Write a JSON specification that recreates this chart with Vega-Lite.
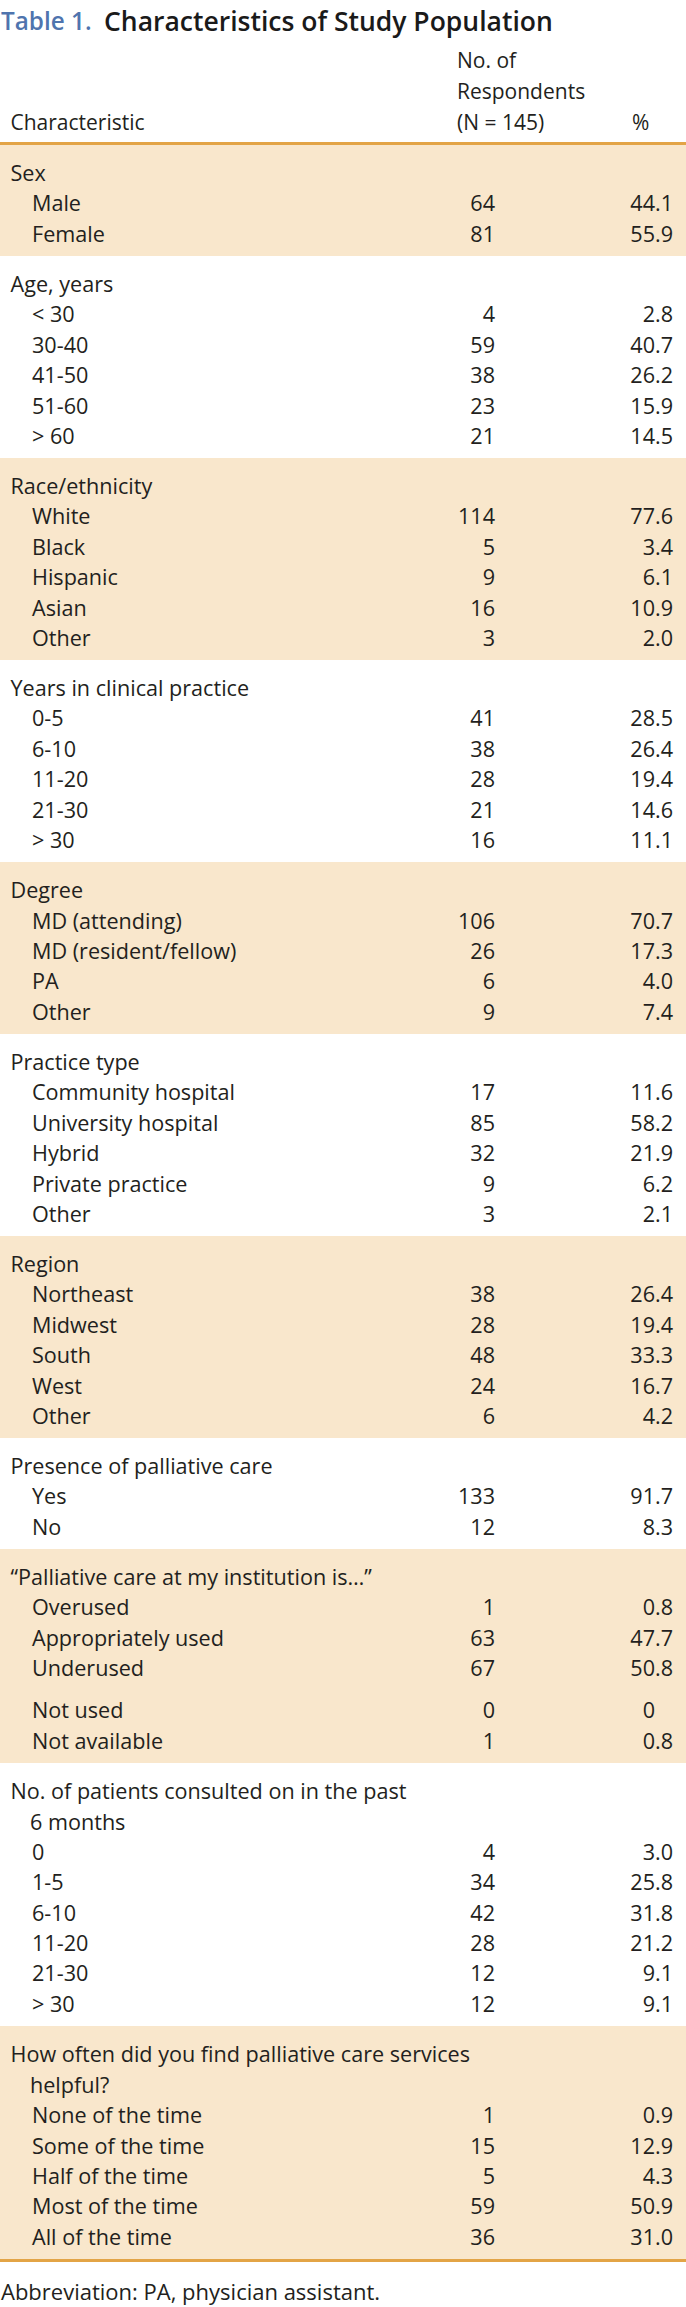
{
"$schema": "https://vega.github.io/schema/vega-lite/v6.json",
"background": "white",
"padding": 0,
"spacing": 0,
"bounds": "flush",
"config": {"view": {"stroke": null}, "text": {"font": "Open Sans", "fontSize": 21.6, "color": "#231f20"}},
"datasets": {
"rows": [
{"g":1,"lv":0,"label":"Sex","n":"","pi":"","pf":""},
{"g":1,"lv":1,"label":"Male","n":"64","pi":"44","pf":".1"},
{"g":1,"lv":1,"label":"Female","n":"81","pi":"55","pf":".9"},
{"g":2,"lv":0,"label":"Age, years","n":"","pi":"","pf":""},
{"g":2,"lv":1,"label":"< 30","n":"4","pi":"2","pf":".8"},
{"g":2,"lv":1,"label":"30-40","n":"59","pi":"40","pf":".7"},
{"g":2,"lv":1,"label":"41-50","n":"38","pi":"26","pf":".2"},
{"g":2,"lv":1,"label":"51-60","n":"23","pi":"15","pf":".9"},
{"g":2,"lv":1,"label":"> 60","n":"21","pi":"14","pf":".5"},
{"g":3,"lv":0,"label":"Race/ethnicity","n":"","pi":"","pf":""},
{"g":3,"lv":1,"label":"White","n":"114","pi":"77","pf":".6"},
{"g":3,"lv":1,"label":"Black","n":"5","pi":"3","pf":".4"},
{"g":3,"lv":1,"label":"Hispanic","n":"9","pi":"6","pf":".1"},
{"g":3,"lv":1,"label":"Asian","n":"16","pi":"10","pf":".9"},
{"g":3,"lv":1,"label":"Other","n":"3","pi":"2","pf":".0"},
{"g":4,"lv":0,"label":"Years in clinical practice","n":"","pi":"","pf":""},
{"g":4,"lv":1,"label":"0-5","n":"41","pi":"28","pf":".5"},
{"g":4,"lv":1,"label":"6-10","n":"38","pi":"26","pf":".4"},
{"g":4,"lv":1,"label":"11-20","n":"28","pi":"19","pf":".4"},
{"g":4,"lv":1,"label":"21-30","n":"21","pi":"14","pf":".6"},
{"g":4,"lv":1,"label":"> 30","n":"16","pi":"11","pf":".1"},
{"g":5,"lv":0,"label":"Degree","n":"","pi":"","pf":""},
{"g":5,"lv":1,"label":"MD (attending)","n":"106","pi":"70","pf":".7"},
{"g":5,"lv":1,"label":"MD (resident/fellow)","n":"26","pi":"17","pf":".3"},
{"g":5,"lv":1,"label":"PA","n":"6","pi":"4","pf":".0"},
{"g":5,"lv":1,"label":"Other","n":"9","pi":"7","pf":".4"},
{"g":6,"lv":0,"label":"Practice type","n":"","pi":"","pf":""},
{"g":6,"lv":1,"label":"Community hospital","n":"17","pi":"11","pf":".6"},
{"g":6,"lv":1,"label":"University hospital","n":"85","pi":"58","pf":".2"},
{"g":6,"lv":1,"label":"Hybrid","n":"32","pi":"21","pf":".9"},
{"g":6,"lv":1,"label":"Private practice","n":"9","pi":"6","pf":".2"},
{"g":6,"lv":1,"label":"Other","n":"3","pi":"2","pf":".1"},
{"g":7,"lv":0,"label":"Region","n":"","pi":"","pf":""},
{"g":7,"lv":1,"label":"Northeast","n":"38","pi":"26","pf":".4"},
{"g":7,"lv":1,"label":"Midwest","n":"28","pi":"19","pf":".4"},
{"g":7,"lv":1,"label":"South","n":"48","pi":"33","pf":".3"},
{"g":7,"lv":1,"label":"West","n":"24","pi":"16","pf":".7"},
{"g":7,"lv":1,"label":"Other","n":"6","pi":"4","pf":".2"},
{"g":8,"lv":0,"label":"Presence of palliative care","n":"","pi":"","pf":""},
{"g":8,"lv":1,"label":"Yes","n":"133","pi":"91","pf":".7"},
{"g":8,"lv":1,"label":"No","n":"12","pi":"8","pf":".3"},
{"g":9,"lv":0,"label":"“Palliative care at my institution is…”","n":"","pi":"","pf":""},
{"g":9,"lv":1,"label":"Overused","n":"1","pi":"0","pf":".8"},
{"g":9,"lv":1,"label":"Appropriately used","n":"63","pi":"47","pf":".7"},
{"g":9,"lv":1,"label":"Underused","n":"67","pi":"50","pf":".8"},
{"g":10,"lv":1,"label":"Not used","n":"0","pi":"0","pf":""},
{"g":10,"lv":1,"label":"Not available","n":"1","pi":"0","pf":".8"},
{"g":11,"lv":0,"label":"No. of patients consulted on in the past","n":"","pi":"","pf":""},
{"g":11,"lv":2,"label":"6 months","n":"","pi":"","pf":""},
{"g":11,"lv":1,"label":"0","n":"4","pi":"3","pf":".0"},
{"g":11,"lv":1,"label":"1-5","n":"34","pi":"25","pf":".8"},
{"g":11,"lv":1,"label":"6-10","n":"42","pi":"31","pf":".8"},
{"g":11,"lv":1,"label":"11-20","n":"28","pi":"21","pf":".2"},
{"g":11,"lv":1,"label":"21-30","n":"12","pi":"9","pf":".1"},
{"g":11,"lv":1,"label":"> 30","n":"12","pi":"9","pf":".1"},
{"g":12,"lv":0,"label":"How often did you find palliative care services","n":"","pi":"","pf":""},
{"g":12,"lv":2,"label":"helpful?","n":"","pi":"","pf":""},
{"g":12,"lv":1,"label":"None of the time","n":"1","pi":"0","pf":".9"},
{"g":12,"lv":1,"label":"Some of the time","n":"15","pi":"12","pf":".9"},
{"g":12,"lv":1,"label":"Half of the time","n":"5","pi":"4","pf":".3"},
{"g":12,"lv":1,"label":"Most of the time","n":"59","pi":"50","pf":".9"},
{"g":12,"lv":1,"label":"All of the time","n":"36","pi":"31","pf":".0"}
]
},
"vconcat": [
{"width":686,"height":45,"data":{"values":[{"a":"Table 1.","b":"Characteristics of Study Population"}]},
 "encoding":{"y":{"field":"a","type":"nominal","axis":null,"scale":{"type":"band","paddingInner":0,"paddingOuter":0}}},
 "layer":[
  {"mark":{"type":"text","align":"left","fontSize":24.3,"fontWeight":600,"color":"#4f74ae"},"encoding":{"x":{"datum":1,"type":"quantitative","scale":{"domain":[0,686]},"axis":null},"text":{"field":"a"}}},
  {"mark":{"type":"text","align":"left","fontSize":26.5,"fontWeight":600,"color":"#1a1a1a"},"encoding":{"x":{"datum":104,"type":"quantitative","scale":{"domain":[0,686]},"axis":null},"text":{"field":"b"}}}
 ]},
{"width":686,"height":97,"data":{"values":[{"line":1,"c":"","nr":"No. of","p":""},{"line":2,"c":"","nr":"Respondents","p":""},{"line":3,"c":"Characteristic","nr":"(N = 145)","p":"%"}]},
 "encoding":{"y":{"field":"line","type":"ordinal","axis":null,"scale":{"type":"band","paddingInner":0,"paddingOuter":0.0645,"align":0.375}}},
 "layer":[
  {"mark":{"type":"text","align":"left","fontSize":21},"encoding":{"x":{"datum":10.5,"type":"quantitative","scale":{"domain":[0,686]},"axis":null},"text":{"field":"c"}}},
  {"mark":{"type":"text","align":"left","fontSize":21},"encoding":{"x":{"datum":457,"type":"quantitative","scale":{"domain":[0,686]},"axis":null},"text":{"field":"nr"}}},
  {"mark":{"type":"text","align":"left","fontSize":21},"encoding":{"x":{"datum":632,"type":"quantitative","scale":{"domain":[0,686]},"axis":null},"text":{"field":"p"}}}
 ]},
{"width":686,"height":3,"view":{"fill":"#e3a446","stroke":null},"data":{"values":[{}]},"mark":"text","encoding":{"text":{"value":""}}},
{"width":686,"height":111,"view":{"fill":"#f9e7cc","stroke":null},"data":{"name":"rows"},"transform":[{"filter":"datum.g==1"}],
 "encoding":{"y":{"field":"label","type":"nominal","sort":null,"axis":null,"scale":{"type":"band","paddingInner":0,"paddingOuter":0.3295,"align":0.75}}},
 "layer":[
  {"mark":{"type":"text","align":"left"},"encoding":{"x":{"datum":10.5,"type":"quantitative","scale":{"domain":[0,686]},"axis":null},"text":{"condition":{"test":"datum.lv==0","field":"label"},"value":""}}},
  {"mark":{"type":"text","align":"left"},"encoding":{"x":{"datum":32,"type":"quantitative","scale":{"domain":[0,686]},"axis":null},"text":{"condition":{"test":"datum.lv>0","field":"label"},"value":""}}},
  {"mark":{"type":"text","align":"right"},"encoding":{"x":{"datum":495,"type":"quantitative","scale":{"domain":[0,686]},"axis":null},"text":{"field":"n"}}},
  {"mark":{"type":"text","align":"right"},"encoding":{"x":{"datum":655,"type":"quantitative","scale":{"domain":[0,686]},"axis":null},"text":{"field":"pi"}}},
  {"mark":{"type":"text","align":"left"},"encoding":{"x":{"datum":655,"type":"quantitative","scale":{"domain":[0,686]},"axis":null},"text":{"field":"pf"}}}
 ]},
{"width":686,"height":202,"data":{"name":"rows"},"transform":[{"filter":"datum.g==2"}],
 "encoding":{"y":{"field":"label","type":"nominal","sort":null,"axis":null,"scale":{"type":"band","paddingInner":0,"paddingOuter":0.3295,"align":0.75}}},
 "layer":[
  {"mark":{"type":"text","align":"left"},"encoding":{"x":{"datum":10.5,"type":"quantitative","scale":{"domain":[0,686]},"axis":null},"text":{"condition":{"test":"datum.lv==0","field":"label"},"value":""}}},
  {"mark":{"type":"text","align":"left"},"encoding":{"x":{"datum":32,"type":"quantitative","scale":{"domain":[0,686]},"axis":null},"text":{"condition":{"test":"datum.lv>0","field":"label"},"value":""}}},
  {"mark":{"type":"text","align":"right"},"encoding":{"x":{"datum":495,"type":"quantitative","scale":{"domain":[0,686]},"axis":null},"text":{"field":"n"}}},
  {"mark":{"type":"text","align":"right"},"encoding":{"x":{"datum":655,"type":"quantitative","scale":{"domain":[0,686]},"axis":null},"text":{"field":"pi"}}},
  {"mark":{"type":"text","align":"left"},"encoding":{"x":{"datum":655,"type":"quantitative","scale":{"domain":[0,686]},"axis":null},"text":{"field":"pf"}}}
 ]},
{"width":686,"height":202,"view":{"fill":"#f9e7cc","stroke":null},"data":{"name":"rows"},"transform":[{"filter":"datum.g==3"}],
 "encoding":{"y":{"field":"label","type":"nominal","sort":null,"axis":null,"scale":{"type":"band","paddingInner":0,"paddingOuter":0.3295,"align":0.75}}},
 "layer":[
  {"mark":{"type":"text","align":"left"},"encoding":{"x":{"datum":10.5,"type":"quantitative","scale":{"domain":[0,686]},"axis":null},"text":{"condition":{"test":"datum.lv==0","field":"label"},"value":""}}},
  {"mark":{"type":"text","align":"left"},"encoding":{"x":{"datum":32,"type":"quantitative","scale":{"domain":[0,686]},"axis":null},"text":{"condition":{"test":"datum.lv>0","field":"label"},"value":""}}},
  {"mark":{"type":"text","align":"right"},"encoding":{"x":{"datum":495,"type":"quantitative","scale":{"domain":[0,686]},"axis":null},"text":{"field":"n"}}},
  {"mark":{"type":"text","align":"right"},"encoding":{"x":{"datum":655,"type":"quantitative","scale":{"domain":[0,686]},"axis":null},"text":{"field":"pi"}}},
  {"mark":{"type":"text","align":"left"},"encoding":{"x":{"datum":655,"type":"quantitative","scale":{"domain":[0,686]},"axis":null},"text":{"field":"pf"}}}
 ]},
{"width":686,"height":202,"data":{"name":"rows"},"transform":[{"filter":"datum.g==4"}],
 "encoding":{"y":{"field":"label","type":"nominal","sort":null,"axis":null,"scale":{"type":"band","paddingInner":0,"paddingOuter":0.3295,"align":0.75}}},
 "layer":[
  {"mark":{"type":"text","align":"left"},"encoding":{"x":{"datum":10.5,"type":"quantitative","scale":{"domain":[0,686]},"axis":null},"text":{"condition":{"test":"datum.lv==0","field":"label"},"value":""}}},
  {"mark":{"type":"text","align":"left"},"encoding":{"x":{"datum":32,"type":"quantitative","scale":{"domain":[0,686]},"axis":null},"text":{"condition":{"test":"datum.lv>0","field":"label"},"value":""}}},
  {"mark":{"type":"text","align":"right"},"encoding":{"x":{"datum":495,"type":"quantitative","scale":{"domain":[0,686]},"axis":null},"text":{"field":"n"}}},
  {"mark":{"type":"text","align":"right"},"encoding":{"x":{"datum":655,"type":"quantitative","scale":{"domain":[0,686]},"axis":null},"text":{"field":"pi"}}},
  {"mark":{"type":"text","align":"left"},"encoding":{"x":{"datum":655,"type":"quantitative","scale":{"domain":[0,686]},"axis":null},"text":{"field":"pf"}}}
 ]},
{"width":686,"height":172,"view":{"fill":"#f9e7cc","stroke":null},"data":{"name":"rows"},"transform":[{"filter":"datum.g==5"}],
 "encoding":{"y":{"field":"label","type":"nominal","sort":null,"axis":null,"scale":{"type":"band","paddingInner":0,"paddingOuter":0.3295,"align":0.75}}},
 "layer":[
  {"mark":{"type":"text","align":"left"},"encoding":{"x":{"datum":10.5,"type":"quantitative","scale":{"domain":[0,686]},"axis":null},"text":{"condition":{"test":"datum.lv==0","field":"label"},"value":""}}},
  {"mark":{"type":"text","align":"left"},"encoding":{"x":{"datum":32,"type":"quantitative","scale":{"domain":[0,686]},"axis":null},"text":{"condition":{"test":"datum.lv>0","field":"label"},"value":""}}},
  {"mark":{"type":"text","align":"right"},"encoding":{"x":{"datum":495,"type":"quantitative","scale":{"domain":[0,686]},"axis":null},"text":{"field":"n"}}},
  {"mark":{"type":"text","align":"right"},"encoding":{"x":{"datum":655,"type":"quantitative","scale":{"domain":[0,686]},"axis":null},"text":{"field":"pi"}}},
  {"mark":{"type":"text","align":"left"},"encoding":{"x":{"datum":655,"type":"quantitative","scale":{"domain":[0,686]},"axis":null},"text":{"field":"pf"}}}
 ]},
{"width":686,"height":202,"data":{"name":"rows"},"transform":[{"filter":"datum.g==6"}],
 "encoding":{"y":{"field":"label","type":"nominal","sort":null,"axis":null,"scale":{"type":"band","paddingInner":0,"paddingOuter":0.3295,"align":0.75}}},
 "layer":[
  {"mark":{"type":"text","align":"left"},"encoding":{"x":{"datum":10.5,"type":"quantitative","scale":{"domain":[0,686]},"axis":null},"text":{"condition":{"test":"datum.lv==0","field":"label"},"value":""}}},
  {"mark":{"type":"text","align":"left"},"encoding":{"x":{"datum":32,"type":"quantitative","scale":{"domain":[0,686]},"axis":null},"text":{"condition":{"test":"datum.lv>0","field":"label"},"value":""}}},
  {"mark":{"type":"text","align":"right"},"encoding":{"x":{"datum":495,"type":"quantitative","scale":{"domain":[0,686]},"axis":null},"text":{"field":"n"}}},
  {"mark":{"type":"text","align":"right"},"encoding":{"x":{"datum":655,"type":"quantitative","scale":{"domain":[0,686]},"axis":null},"text":{"field":"pi"}}},
  {"mark":{"type":"text","align":"left"},"encoding":{"x":{"datum":655,"type":"quantitative","scale":{"domain":[0,686]},"axis":null},"text":{"field":"pf"}}}
 ]},
{"width":686,"height":202,"view":{"fill":"#f9e7cc","stroke":null},"data":{"name":"rows"},"transform":[{"filter":"datum.g==7"}],
 "encoding":{"y":{"field":"label","type":"nominal","sort":null,"axis":null,"scale":{"type":"band","paddingInner":0,"paddingOuter":0.3295,"align":0.75}}},
 "layer":[
  {"mark":{"type":"text","align":"left"},"encoding":{"x":{"datum":10.5,"type":"quantitative","scale":{"domain":[0,686]},"axis":null},"text":{"condition":{"test":"datum.lv==0","field":"label"},"value":""}}},
  {"mark":{"type":"text","align":"left"},"encoding":{"x":{"datum":32,"type":"quantitative","scale":{"domain":[0,686]},"axis":null},"text":{"condition":{"test":"datum.lv>0","field":"label"},"value":""}}},
  {"mark":{"type":"text","align":"right"},"encoding":{"x":{"datum":495,"type":"quantitative","scale":{"domain":[0,686]},"axis":null},"text":{"field":"n"}}},
  {"mark":{"type":"text","align":"right"},"encoding":{"x":{"datum":655,"type":"quantitative","scale":{"domain":[0,686]},"axis":null},"text":{"field":"pi"}}},
  {"mark":{"type":"text","align":"left"},"encoding":{"x":{"datum":655,"type":"quantitative","scale":{"domain":[0,686]},"axis":null},"text":{"field":"pf"}}}
 ]},
{"width":686,"height":111,"data":{"name":"rows"},"transform":[{"filter":"datum.g==8"}],
 "encoding":{"y":{"field":"label","type":"nominal","sort":null,"axis":null,"scale":{"type":"band","paddingInner":0,"paddingOuter":0.3295,"align":0.75}}},
 "layer":[
  {"mark":{"type":"text","align":"left"},"encoding":{"x":{"datum":10.5,"type":"quantitative","scale":{"domain":[0,686]},"axis":null},"text":{"condition":{"test":"datum.lv==0","field":"label"},"value":""}}},
  {"mark":{"type":"text","align":"left"},"encoding":{"x":{"datum":32,"type":"quantitative","scale":{"domain":[0,686]},"axis":null},"text":{"condition":{"test":"datum.lv>0","field":"label"},"value":""}}},
  {"mark":{"type":"text","align":"right"},"encoding":{"x":{"datum":495,"type":"quantitative","scale":{"domain":[0,686]},"axis":null},"text":{"field":"n"}}},
  {"mark":{"type":"text","align":"right"},"encoding":{"x":{"datum":655,"type":"quantitative","scale":{"domain":[0,686]},"axis":null},"text":{"field":"pi"}}},
  {"mark":{"type":"text","align":"left"},"encoding":{"x":{"datum":655,"type":"quantitative","scale":{"domain":[0,686]},"axis":null},"text":{"field":"pf"}}}
 ]},
{"width":686,"height":142,"view":{"fill":"#f9e7cc","stroke":null},"data":{"name":"rows"},"transform":[{"filter":"datum.g==9"}],
 "encoding":{"y":{"field":"label","type":"nominal","sort":null,"axis":null,"scale":{"type":"band","paddingInner":0,"paddingOuter":0.346,"align":0.714}}},
 "layer":[
  {"mark":{"type":"text","align":"left"},"encoding":{"x":{"datum":10.5,"type":"quantitative","scale":{"domain":[0,686]},"axis":null},"text":{"condition":{"test":"datum.lv==0","field":"label"},"value":""}}},
  {"mark":{"type":"text","align":"left"},"encoding":{"x":{"datum":32,"type":"quantitative","scale":{"domain":[0,686]},"axis":null},"text":{"condition":{"test":"datum.lv>0","field":"label"},"value":""}}},
  {"mark":{"type":"text","align":"right"},"encoding":{"x":{"datum":495,"type":"quantitative","scale":{"domain":[0,686]},"axis":null},"text":{"field":"n"}}},
  {"mark":{"type":"text","align":"right"},"encoding":{"x":{"datum":655,"type":"quantitative","scale":{"domain":[0,686]},"axis":null},"text":{"field":"pi"}}},
  {"mark":{"type":"text","align":"left"},"encoding":{"x":{"datum":655,"type":"quantitative","scale":{"domain":[0,686]},"axis":null},"text":{"field":"pf"}}}
 ]},
{"width":686,"height":72,"view":{"fill":"#f9e7cc","stroke":null},"data":{"name":"rows"},"transform":[{"filter":"datum.g==10"}],
 "encoding":{"y":{"field":"label","type":"nominal","sort":null,"axis":null,"scale":{"type":"band","paddingInner":0,"paddingOuter":0.181,"align":0.545}}},
 "layer":[
  {"mark":{"type":"text","align":"left"},"encoding":{"x":{"datum":32,"type":"quantitative","scale":{"domain":[0,686]},"axis":null},"text":{"field":"label"}}},
  {"mark":{"type":"text","align":"right"},"encoding":{"x":{"datum":495,"type":"quantitative","scale":{"domain":[0,686]},"axis":null},"text":{"field":"n"}}},
  {"mark":{"type":"text","align":"right"},"encoding":{"x":{"datum":655,"type":"quantitative","scale":{"domain":[0,686]},"axis":null},"text":{"field":"pi"}}},
  {"mark":{"type":"text","align":"left"},"encoding":{"x":{"datum":655,"type":"quantitative","scale":{"domain":[0,686]},"axis":null},"text":{"field":"pf"}}}
 ]},
{"width":686,"height":263,"data":{"name":"rows"},"transform":[{"filter":"datum.g==11"}],
 "encoding":{"y":{"field":"label","type":"nominal","sort":null,"axis":null,"scale":{"type":"band","paddingInner":0,"paddingOuter":0.3295,"align":0.75}}},
 "layer":[
  {"mark":{"type":"text","align":"left"},"encoding":{"x":{"datum":10.5,"type":"quantitative","scale":{"domain":[0,686]},"axis":null},"text":{"condition":{"test":"datum.lv==0","field":"label"},"value":""}}},
  {"mark":{"type":"text","align":"left"},"encoding":{"x":{"datum":32,"type":"quantitative","scale":{"domain":[0,686]},"axis":null},"text":{"condition":{"test":"datum.lv==1","field":"label"},"value":""}}},
  {"mark":{"type":"text","align":"left"},"encoding":{"x":{"datum":30,"type":"quantitative","scale":{"domain":[0,686]},"axis":null},"text":{"condition":{"test":"datum.lv==2","field":"label"},"value":""}}},
  {"mark":{"type":"text","align":"right"},"encoding":{"x":{"datum":495,"type":"quantitative","scale":{"domain":[0,686]},"axis":null},"text":{"field":"n"}}},
  {"mark":{"type":"text","align":"right"},"encoding":{"x":{"datum":655,"type":"quantitative","scale":{"domain":[0,686]},"axis":null},"text":{"field":"pi"}}},
  {"mark":{"type":"text","align":"left"},"encoding":{"x":{"datum":655,"type":"quantitative","scale":{"domain":[0,686]},"axis":null},"text":{"field":"pf"}}}
 ]},
{"width":686,"height":233,"view":{"fill":"#f9e7cc","stroke":null},"data":{"name":"rows"},"transform":[{"filter":"datum.g==12"}],
 "encoding":{"y":{"field":"label","type":"nominal","sort":null,"axis":null,"scale":{"type":"band","paddingInner":0,"paddingOuter":0.3295,"align":0.75}}},
 "layer":[
  {"mark":{"type":"text","align":"left"},"encoding":{"x":{"datum":10.5,"type":"quantitative","scale":{"domain":[0,686]},"axis":null},"text":{"condition":{"test":"datum.lv==0","field":"label"},"value":""}}},
  {"mark":{"type":"text","align":"left"},"encoding":{"x":{"datum":32,"type":"quantitative","scale":{"domain":[0,686]},"axis":null},"text":{"condition":{"test":"datum.lv==1","field":"label"},"value":""}}},
  {"mark":{"type":"text","align":"left"},"encoding":{"x":{"datum":30,"type":"quantitative","scale":{"domain":[0,686]},"axis":null},"text":{"condition":{"test":"datum.lv==2","field":"label"},"value":""}}},
  {"mark":{"type":"text","align":"right"},"encoding":{"x":{"datum":495,"type":"quantitative","scale":{"domain":[0,686]},"axis":null},"text":{"field":"n"}}},
  {"mark":{"type":"text","align":"right"},"encoding":{"x":{"datum":655,"type":"quantitative","scale":{"domain":[0,686]},"axis":null},"text":{"field":"pi"}}},
  {"mark":{"type":"text","align":"left"},"encoding":{"x":{"datum":655,"type":"quantitative","scale":{"domain":[0,686]},"axis":null},"text":{"field":"pf"}}}
 ]},
{"width":686,"height":3,"view":{"fill":"#e3a446","stroke":null},"data":{"values":[{}]},"mark":"text","encoding":{"text":{"value":""}}},
{"width":686,"height":45,"data":{"values":[{"t":"Abbreviation: PA, physician assistant."}]},
 "mark":{"type":"text","align":"left","fontSize":22},
 "encoding":{"y":{"field":"t","type":"nominal","axis":null,"scale":{"type":"band","paddingInner":0,"paddingOuter":0.35,"align":0.975}},"x":{"datum":1,"type":"quantitative","scale":{"domain":[0,686]},"axis":null},"text":{"field":"t"}}}
]
}
